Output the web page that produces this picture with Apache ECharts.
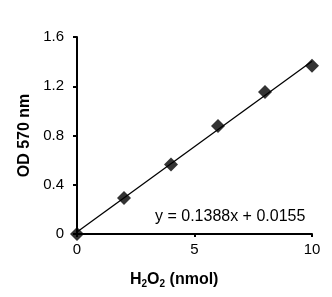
<!DOCTYPE html>
<html>
<head>
<meta charset="utf-8">
<script src="https://cdn.jsdelivr.net/npm/echarts@6/dist/echarts.min.js"></script>
<style>html,body{margin:0;padding:0;background:#fff;}#c{width:332px;height:297px;}</style>
</head>
<body>
<div id="c"></div>
<script>
var h2o2Nmol = [0, 2, 4, 6, 8, 10];
var od570 = [0, 0.292, 0.565, 0.878, 1.153, 1.367];
var trendX = [0, 10];
var trendY = [0.0155, 1.4035];
var equationText = 'y = 0.1388x + 0.0155';
var yTitle = 'OD 570 nm';
var xTicks = {min: 0, max: 10, interval: 5};
var yTicks = {min: 0, max: 1.6, interval: 0.4};

var FONT = '"Liberation Sans", Arial, sans-serif';
var chart = echarts.init(document.getElementById('c'));
var pts = h2o2Nmol.map(function (x, i) { return [x, od570[i]]; });
var trend = trendX.map(function (x, i) { return [x, trendY[i]]; });

chart.setOption({
  animation: false,
  backgroundColor: '#fff',
  grid: {left: 77, right: 20, top: 37, bottom: 63},
  xAxis: {
    type: 'value', min: xTicks.min, max: xTicks.max, interval: xTicks.interval,
    axisLine: {show: true, lineStyle: {color: '#000', width: 2}},
    axisTick: {show: true, inside: false, length: 3, lineStyle: {color: '#000', width: 2}},
    axisLabel: {color: '#000', fontSize: 15, fontFamily: FONT, margin: 8},
    splitLine: {show: false}
  },
  yAxis: {
    type: 'value', min: yTicks.min, max: yTicks.max, interval: yTicks.interval,
    name: yTitle, nameLocation: 'middle', nameGap: 43,
    nameTextStyle: {color: '#000', fontSize: 16, fontWeight: 'bold', fontFamily: FONT},
    axisLine: {show: true, lineStyle: {color: '#000', width: 2}},
    axisTick: {show: true, inside: false, length: 4, lineStyle: {color: '#000', width: 2}},
    axisLabel: {color: '#000', fontSize: 15, fontFamily: FONT, margin: 13},
    splitLine: {show: false}
  },
  graphic: [
    {type: 'text', left: 155, top: 209, z: 10,
     style: {text: equationText, fill: '#000', font: '16px ' + FONT}},
    {type: 'text', left: 130, top: 272, z: 10,
     style: {
       text: 'H{s|2}O{s|2} (nmol)', fill: '#000',
       font: 'bold 16px ' + FONT,
       rich: {s: {fontSize: 10, fontWeight: 'bold', fontFamily: FONT, fill: '#000', padding: [8, 0, 0, 0]}}
     }}
  ],
  series: [
    {type: 'line', data: trend, symbol: 'none', lineStyle: {color: '#000', width: 1.3}, z: 2},
    {type: 'scatter', data: pts, symbol: 'diamond', symbolSize: 14, itemStyle: {color: '#000'}, z: 3}
  ]
});
</script>
</body>
</html>
